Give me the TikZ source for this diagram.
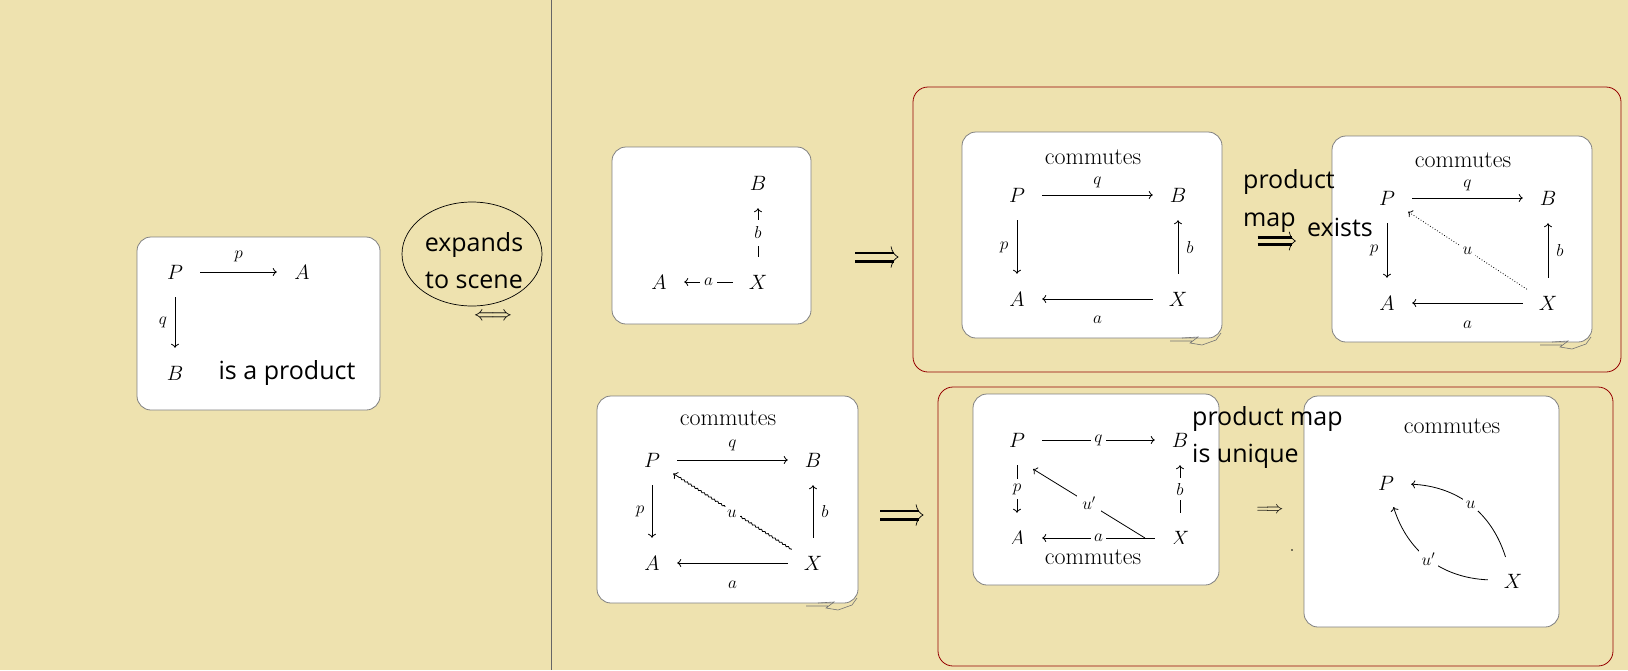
\documentclass[tikz,border=0pt]{standalone}
\usepackage{fontspec}
\newfontfamily\uifont{Open Sans}
\usetikzlibrary{arrows.meta,decorations.pathmorphing,shapes.geometric}
\definecolor{bgc}{RGB}{238,226,175}
\definecolor{redb}{RGB}{150,0,0}
\definecolor{cardb}{RGB}{128,128,128}
\begin{document}
\begin{tikzpicture}[x=1pt,y=-1pt,
 card/.style={draw=cardb, fill=white, rounded corners=14pt, line width=0.8pt, inner sep=0pt},
 redbox/.style={draw=redb, rounded corners=15pt, line width=0.8pt, inner sep=0pt},
 obj/.style={circle, minimum size=50pt, inner sep=0pt, font=\fontsize{22}{26}\selectfont},
 lbl/.style={font=\fontsize{18}{21}\selectfont, inner sep=1pt},
 inl/.style={font=\fontsize{18}{21}\selectfont, fill=white, inner sep=3pt},
 arr/.style={-{To[length=4pt,width=8pt]}, line width=0.8pt},
 comm/.style={font=\fontsize{24}{28}\selectfont, inner sep=0pt},
 ui/.style={font=\fontsize{25}{37}\selectfont\uifont, inner sep=0pt},
 divider/.style={draw=black!60, line width=0.8pt},
 curlstyle/.style={draw=black!55, line width=0.6pt},
 bigimp/.pic={
   \draw[line width=2.6pt] (-21,-4.2) -- (18,-4.2) (-21,4.2) -- (18,4.2);
   \draw[line width=0.7pt] (15,-10.5) .. controls (16,-5) and (19,-1.5) .. (22,0) .. controls (19,1.5) and (16,5) .. (15,10.5);
 },
 curl/.pic={
   \draw[curlstyle] (-52,3) -- (-30,3) (-40,0) -- (-24,-1) -- (-32,5) -- (-20,7) -- (-6,2) -- (-1,-5);
 }
]
\fill[bgc] (0,0) rectangle (1628,670);
\useasboundingbox (0,0) rectangle (1628,670);

% divider
\draw[divider] (551,0) -- (551,670);

% ---------- box 1 ----------
\node[card, minimum width=243pt, minimum height=173pt] (c1) at (258.5,323.5) {};
\node[obj] (P1) at (175,272) {$P$};
\node[obj] (A1) at (302,272) {$A$};
\node[obj] (B1) at (175,373) {$B$};
\draw[arr] (P1) -- node[lbl, yshift=16pt]{$p$} (A1);
\draw[arr] (P1) -- node[lbl, xshift=-12pt]{$q$} (B1);
\node[ui] (prod) at (287,373) {is a product};

% ---------- ellipse ----------
\node[ellipse, draw, line width=0.7pt, minimum width=140pt, minimum height=104pt, inner sep=0pt] (ell) at (472,254) {};
\node[ui, align=center] (exp) at (474,261) {expands\\to scene};
\node[font=\fontsize{22}{26}\selectfont, inner sep=0pt] (iff) at (493,317) {$\Longleftrightarrow$};

% ---------- box 2 ----------
\node[card, minimum width=199pt, minimum height=177pt] (c2) at (711.5,235.5) {};
\node[obj] (B2) at (758,183) {$B$};
\node[obj] (X2) at (758,282) {$X$};
\node[obj] (A2) at (659,282) {$A$};
\draw[arr] (X2) -- node[inl, inner sep=4pt]{$a$} (A2);
\draw[arr] (X2) -- node[inl, inner sep=7pt]{$b$} (B2);
\pic at (876,257) {bigimp};

% ---------- red box 1 ----------
\node[redbox, minimum width=708pt, minimum height=285pt] (r1) at (1267,229.5) {};

% box 3
\node[card, minimum width=260pt, minimum height=206pt] (c3) at (1092,235) {};
\pic at (1222,338) {curl};
\node[comm] (cm3) at (1093,157) {commutes};
\node[obj] (P3) at (1017,195) {$P$};
\node[obj] (B3) at (1178,195) {$B$};
\node[obj] (A3) at (1017,299) {$A$};
\node[obj] (X3) at (1178,299) {$X$};
\draw[arr] (P3) -- node[lbl, yshift=13pt]{$q$} (B3);
\draw[arr] (P3) -- node[lbl, xshift=-13pt]{$p$} (A3);
\draw[arr] (X3) -- node[lbl, xshift=12pt]{$b$} (B3);
\draw[arr] (X3) -- node[lbl, yshift=-21pt]{$a$} (A3);

% box 4
\node[card, minimum width=260pt, minimum height=206pt] (c4) at (1462,239) {};
\pic at (1592,342) {curl};
\node[comm] (cm4) at (1463,160) {commutes};
\node[obj] (P4) at (1387,198) {$P$};
\node[obj] (B4) at (1548,198) {$B$};
\node[obj] (A4) at (1387,303) {$A$};
\node[obj] (X4) at (1548,303) {$X$};
\draw[arr] (P4) -- node[lbl, yshift=13pt]{$q$} (B4);
\draw[arr] (P4) -- node[lbl, xshift=-13pt]{$p$} (A4);
\draw[arr] (X4) -- node[lbl, xshift=12pt]{$b$} (B4);
\draw[arr] (X4) -- node[lbl, yshift=-22pt]{$a$} (A4);
\draw[arr, dotted] (X4) -- node[inl]{$u$} (P4);

% texts over boxes
\node[ui, align=left, anchor=west] (pm) at (1243,201) {product\\map};
\pic[scale=0.88] at (1276,241) {bigimp};
\node[ui, anchor=west] (ex) at (1307,227) {exists};

% ---------- box 5 ----------
\node[card, minimum width=261pt, minimum height=207pt] (c5) at (727.5,499.5) {};
\pic at (858,603) {curl};
\node[comm] (cm5) at (728,418) {commutes};
\node[obj] (P5) at (652,460) {$P$};
\node[obj] (B5) at (813,460) {$B$};
\node[obj] (A5) at (652,563) {$A$};
\node[obj] (X5) at (813,563) {$X$};
\draw[arr] (P5) -- node[lbl, yshift=15pt]{$q$} (B5);
\draw[arr] (P5) -- node[lbl, xshift=-12pt]{$p$} (A5);
\draw[arr] (X5) -- node[lbl, xshift=12pt]{$b$} (B5);
\draw[arr] (X5) -- node[lbl, yshift=-22pt]{$a$} (A5);
\draw[arr, decorate, decoration={snake, amplitude=0.7pt, segment length=4pt, pre length=1pt, post length=6pt}] (X5) -- (P5);
\node[inl] (u5) at (732,514) {$u$};
\pic at (901,515) {bigimp};

% ---------- red box 2 ----------
\node[redbox, minimum width=675pt, minimum height=279pt] (r2) at (1275.5,526.5) {};

% box 6
\node[card, minimum width=246pt, minimum height=191pt] (c6) at (1096,489.5) {};
\begin{scope}
\clip (973,394) rectangle (1219,543);
\node[obj] (P6) at (1017,440) {$P$};
\node[obj] (B6) at (1180,440) {$B$};
\node[obj] (A6) at (1017,538) {$A$};
\node[obj] (X6) at (1180,538) {$X$};
\coordinate (u6s) at (1145,538);
\coordinate (u6e) at (1033,469);
\draw[arr] (P6) -- node[inl]{$q$} (B6);
\draw[arr] (P6) -- node[inl, inner sep=5pt]{$p$} (A6);
\draw[arr] (X6) -- node[inl, inner sep=5pt]{$b$} (B6);
\draw[arr] (X6) -- node[inl]{$a$} (A6);
\draw[arr] (u6s) -- node[inl, inner sep=5pt]{$u'$} (u6e);
\end{scope}
\node[comm] (cm6) at (1093,557) {commutes};

\node[font=\fontsize{19}{23}\selectfont, inner sep=0pt] (imp7) at (1270,510) {$\Longrightarrow$};
\fill (1292,550) circle (0.8pt);

% box 7
\node[card, minimum width=255pt, minimum height=231pt] (c7) at (1431.5,511.5) {};
\node[comm] (cm7) at (1452,426) {commutes};
\node[obj] (P7) at (1386,483) {$P$};
\node[obj] (X7) at (1513,581) {$X$};
\draw[arr] (X7) to[bend right=35] node[inl]{$u$} (P7);
\draw[arr] (X7) to[bend left=35] node[inl]{$u'$} (P7);

% text over boxes 6 and 7
\node[ui, align=left, anchor=west] (pu) at (1192,437) {product map\\is unique};

\end{tikzpicture}
\end{document}
